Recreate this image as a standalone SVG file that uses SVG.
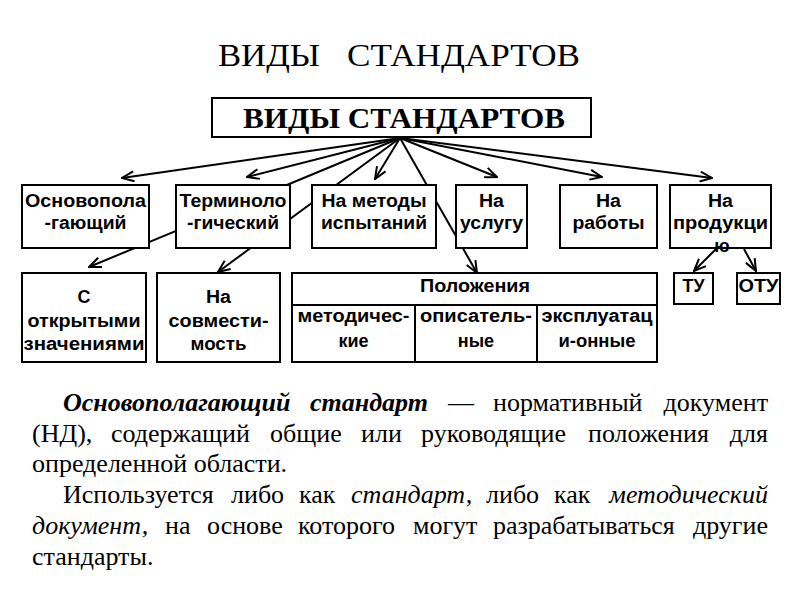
<svg xmlns="http://www.w3.org/2000/svg" width="800" height="600" viewBox="0 0 800 600">
<style>
.bx{fill:#fff;stroke:#000;stroke-width:2}
.ln{fill:none;stroke:#000;stroke-width:2}
.lb{font-family:"Liberation Sans",Arial,sans-serif;font-weight:bold;font-size:18px;text-anchor:middle;fill:#000}
.ser{font-family:"Liberation Serif","Times New Roman",serif;fill:#000}
.p{font-family:"Liberation Serif","Times New Roman",serif;font-size:26px;fill:#000}
.bi{font-weight:bold;font-style:italic}
.it{font-style:italic}
</style>
<defs>
<marker id="ah" markerUnits="userSpaceOnUse" markerWidth="14" markerHeight="12" viewBox="0 0 14 12" refX="13" refY="6" orient="auto">
<path d="M1,1 L13,6 L1,11" fill="none" stroke="#000" stroke-width="2"/>
</marker>
</defs>
<rect width="800" height="600" fill="#fff"/>
<text class="ser" x="218" y="66" font-size="31" textLength="102" lengthAdjust="spacingAndGlyphs">ВИДЫ</text>
<text class="ser" x="347" y="66" font-size="31" textLength="233" lengthAdjust="spacingAndGlyphs">СТАНДАРТОВ</text>

<g id="connectors">
<line class="ln" x1="400" y1="138" x2="122" y2="178" marker-end="url(#ah)"/>
<line class="ln" x1="400" y1="138" x2="247" y2="177" marker-end="url(#ah)"/>
<line class="ln" x1="400" y1="138" x2="375" y2="179" marker-end="url(#ah)"/>
<line class="ln" x1="400" y1="138" x2="497" y2="177" marker-end="url(#ah)"/>
<line class="ln" x1="400" y1="138" x2="602" y2="177" marker-end="url(#ah)"/>
<line class="ln" x1="400" y1="138" x2="712" y2="178" marker-end="url(#ah)"/>
<line class="ln" x1="400" y1="138" x2="89" y2="267" marker-end="url(#ah)"/>
<line class="ln" x1="400" y1="138" x2="218" y2="272" marker-end="url(#ah)"/>
<line class="ln" x1="400" y1="138" x2="477" y2="273" marker-end="url(#ah)"/>
<line class="ln" x1="716" y1="249" x2="694" y2="271" marker-end="url(#ah)"/>
<line class="ln" x1="744" y1="249" x2="756" y2="271" marker-end="url(#ah)"/>
</g>

<g id="root">
<rect class="bx" x="212" y="98" width="379" height="39"/>
<text class="ser" x="243" y="128" font-size="30" font-weight="bold" textLength="322" lengthAdjust="spacingAndGlyphs">ВИДЫ СТАНДАРТОВ</text>
</g>

<g id="osnov">
<rect class="bx" x="22" y="185" width="127" height="63"/>
<text class="lb" x="85.5" y="207" textLength="121" lengthAdjust="spacingAndGlyphs">Основопола</text>
<text class="lb" x="85.5" y="229" textLength="82" lengthAdjust="spacingAndGlyphs">-гающий</text>
</g>
<g id="termin">
<rect class="bx" x="176" y="185" width="114" height="63"/>
<text class="lb" x="233" y="207" textLength="107" lengthAdjust="spacingAndGlyphs">Терминоло</text>
<text class="lb" x="233" y="229" textLength="92" lengthAdjust="spacingAndGlyphs">-гический</text>
</g>
<g id="metody">
<rect class="bx" x="312" y="185" width="124" height="63"/>
<text class="lb" x="374" y="207" textLength="105" lengthAdjust="spacingAndGlyphs">На методы</text>
<text class="lb" x="374" y="229" textLength="106" lengthAdjust="spacingAndGlyphs">испытаний</text>
</g>
<g id="usluga">
<rect class="bx" x="456" y="185" width="71" height="63"/>
<text class="lb" x="491.5" y="207" textLength="25" lengthAdjust="spacingAndGlyphs">На</text>
<text class="lb" x="491.5" y="229" textLength="63" lengthAdjust="spacingAndGlyphs">услугу</text>
</g>
<g id="raboty">
<rect class="bx" x="560" y="185" width="97" height="63"/>
<text class="lb" x="608.5" y="207" textLength="25" lengthAdjust="spacingAndGlyphs">На</text>
<text class="lb" x="608.5" y="229" textLength="72" lengthAdjust="spacingAndGlyphs">работы</text>
</g>
<g id="produkciya">
<rect class="bx" x="670" y="185" width="101" height="63"/>
<text class="lb" x="720.5" y="207" textLength="25" lengthAdjust="spacingAndGlyphs">На</text>
<text class="lb" x="720.5" y="229" textLength="95" lengthAdjust="spacingAndGlyphs">продукци</text>
<text class="lb" x="722" y="252">ю</text>
</g>

<g id="otkrytye">
<rect class="bx" x="22" y="273" width="124" height="89"/>
<text class="lb" x="84" y="303">С</text>
<text class="lb" x="84" y="327" textLength="113" lengthAdjust="spacingAndGlyphs">открытыми</text>
<text class="lb" x="84" y="350" textLength="121" lengthAdjust="spacingAndGlyphs">значениями</text>
</g>
<g id="sovmest">
<rect class="bx" x="157" y="273" width="123" height="89"/>
<text class="lb" x="218.5" y="303" textLength="25" lengthAdjust="spacingAndGlyphs">На</text>
<text class="lb" x="218.5" y="327" textLength="100" lengthAdjust="spacingAndGlyphs">совмести-</text>
<text class="lb" x="218.5" y="350" textLength="56" lengthAdjust="spacingAndGlyphs">мость</text>
</g>
<g id="polozheniya">
<rect class="bx" x="292" y="273" width="365" height="89"/>
<line class="ln" x1="292" y1="305" x2="657" y2="305"/>
<line class="ln" x1="415" y1="305" x2="415" y2="362"/>
<line class="ln" x1="537" y1="305" x2="537" y2="362"/>
<text class="lb" x="475" y="292" textLength="110" lengthAdjust="spacingAndGlyphs">Положения</text>
<text class="lb" x="353.5" y="322" textLength="112" lengthAdjust="spacingAndGlyphs">методичес-</text>
<text class="lb" x="353.5" y="347">кие</text>
<text class="lb" x="476" y="322" textLength="112" lengthAdjust="spacingAndGlyphs">описатель-</text>
<text class="lb" x="476" y="347">ные</text>
<text class="lb" x="597" y="322" textLength="111" lengthAdjust="spacingAndGlyphs">эксплуатац</text>
<text class="lb" x="597" y="347" textLength="77" lengthAdjust="spacingAndGlyphs">и-онные</text>
</g>
<g id="tu">
<rect class="bx" x="674" y="273" width="39" height="31"/>
<text class="lb" x="693.5" y="292" textLength="22" lengthAdjust="spacingAndGlyphs">ТУ</text>
</g>
<g id="otu">
<rect class="bx" x="737" y="273" width="43" height="31"/>
<text class="lb" x="758.5" y="292" textLength="40" lengthAdjust="spacingAndGlyphs">ОТУ</text>
</g>

<g id="paragraph">
<text class="p bi" x="63" y="411">Основополагающий</text>
<text class="p bi" x="310" y="411">стандарт</text>
<text class="p" x="448" y="411">—</text>
<text class="p" x="493" y="411">нормативный</text>
<text class="p" x="768" y="411" text-anchor="end">документ</text>

<text class="p" x="32" y="442">(НД),</text>
<text class="p" x="111" y="442">содержащий</text>
<text class="p" x="270" y="442">общие</text>
<text class="p" x="361" y="442">или</text>
<text class="p" x="421" y="442">руководящие</text>
<text class="p" x="588" y="442">положения</text>
<text class="p" x="768" y="442" text-anchor="end">для</text>

<text class="p" x="32" y="472">определенной области.</text>

<text class="p" x="63" y="503">Используется</text>
<text class="p" x="231" y="503">либо</text>
<text class="p" x="299" y="503">как</text>
<text class="p it" x="351" y="503">стандарт,</text>
<text class="p" x="486" y="503">либо</text>
<text class="p" x="554" y="503">как</text>
<text class="p it" x="768" y="503" text-anchor="end">методический</text>

<text class="p it" x="32" y="534">документ,</text>
<text class="p" x="165" y="534">на</text>
<text class="p" x="207" y="534">основе</text>
<text class="p" x="298" y="534">которого</text>
<text class="p" x="413" y="534">могут</text>
<text class="p" x="493" y="534">разрабатываться</text>
<text class="p" x="768" y="534" text-anchor="end">другие</text>

<text class="p" x="32" y="565">стандарты.</text>
</g>
</svg>
